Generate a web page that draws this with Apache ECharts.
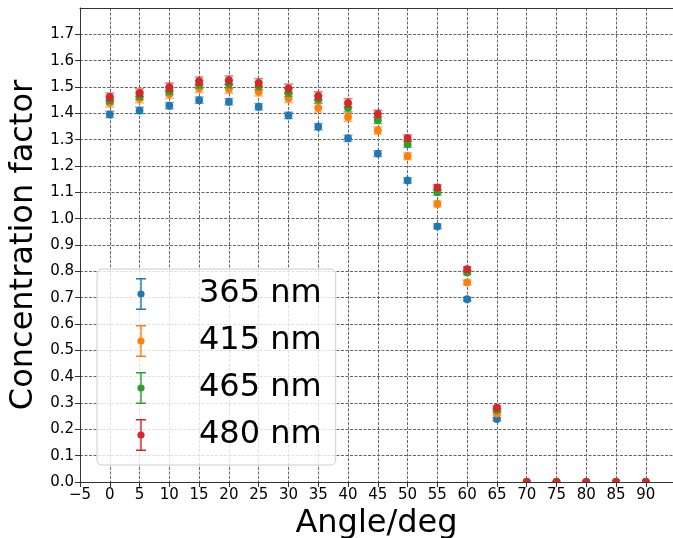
<!DOCTYPE html>
<html>
<head>
<meta charset="utf-8">
<script src="https://cdn.jsdelivr.net/npm/echarts@6/dist/echarts.min.js"></script>
<style>
html, body { margin: 0; padding: 0; background: #fff; }
#chart { width: 673px; height: 538px; }
</style>
</head>
<body>
<div id="chart"></div>
<script>
var angles = [0, 5, 10, 15, 20, 25, 30, 35, 40, 45, 50, 55, 60, 65, 70, 75, 80, 85, 90];

var names = ['365 nm', '415 nm', '465 nm', '480 nm'];
var colors = ['#1f77b4', '#ff7f0e', '#2ca02c', '#d62728'];

var cf365 = [1.396, 1.411, 1.429, 1.450, 1.444, 1.425, 1.392, 1.349, 1.305, 1.247, 1.145, 0.971, 0.694, 0.239, 0, 0, 0, 0, 0];
var cf415 = [1.440, 1.456, 1.473, 1.495, 1.492, 1.482, 1.457, 1.421, 1.386, 1.335, 1.237, 1.056, 0.758, 0.260, 0, 0, 0, 0, 0];
var cf465 = [1.450, 1.466, 1.485, 1.510, 1.511, 1.504, 1.478, 1.453, 1.421, 1.374, 1.283, 1.100, 0.796, 0.273, 0, 0, 0, 0, 0];
var cf480 = [1.462, 1.478, 1.499, 1.522, 1.526, 1.516, 1.495, 1.466, 1.440, 1.398, 1.306, 1.119, 0.808, 0.282, 0, 0, 0, 0, 0];

var err365 = [0.012, 0.012, 0.012, 0.012, 0.012, 0.012, 0.012, 0.012, 0.012, 0.011, 0.010, 0.009, 0.007, 0.006, 0, 0, 0, 0, 0];
var err415 = [0.016, 0.016, 0.016, 0.016, 0.016, 0.016, 0.016, 0.016, 0.016, 0.014, 0.013, 0.011, 0.009, 0.007, 0, 0, 0, 0, 0];
var err465 = [0.014, 0.014, 0.014, 0.014, 0.014, 0.014, 0.014, 0.014, 0.014, 0.013, 0.012, 0.010, 0.008, 0.007, 0, 0, 0, 0, 0];
var err480 = [0.015, 0.015, 0.016, 0.016, 0.016, 0.016, 0.016, 0.016, 0.016, 0.014, 0.012, 0.010, 0.009, 0.007, 0, 0, 0, 0, 0];

var values = [cf365, cf415, cf465, cf480];
var errors = [err365, err415, err465, err480];

var FONT = 'DejaVu Sans';
var barIcon = 'path://M0,0H10V1.5H0Z M4.3,0H5.7V32H4.3Z M0,30.5H10V32H0Z M8.6,16A3.6,3.6,0,1,1,1.4,16A3.6,3.6,0,1,1,8.6,16Z';

function renderErr(params, api) {
    var x = api.value(0), y = api.value(1), e = api.value(2);
    var p = api.coord([x, y]);
    var hi = api.coord([x, y + e]);
    var lo = api.coord([x, y - e]);
    var c = api.visual('color');
    var kids = [];
    if (e > 0) {
        kids.push({type: 'line', shape: {x1: p[0], y1: hi[1], x2: p[0], y2: lo[1]}, style: {stroke: c, lineWidth: 1.5, opacity: 0.6}});
        kids.push({type: 'line', shape: {x1: p[0] - 4.5, y1: hi[1], x2: p[0] + 4.5, y2: hi[1]}, style: {stroke: c, lineWidth: 1.5, opacity: 0.6}});
        kids.push({type: 'line', shape: {x1: p[0] - 4.5, y1: lo[1], x2: p[0] + 4.5, y2: lo[1]}, style: {stroke: c, lineWidth: 1.5, opacity: 0.6}});
    }
    kids.push({type: 'circle', shape: {cx: p[0], cy: p[1], r: 3.9}, style: {fill: c}});
    return {type: 'group', children: kids};
}

var series = [];
for (var i = 0; i < names.length; i++) {
    var d = [];
    for (var j = 0; j < angles.length; j++) {
        d.push([angles[j], values[i][j], errors[i][j]]);
    }
    series.push({
        name: names[i],
        type: 'custom',
        clip: true,
        itemStyle: {color: colors[i]},
        encode: {x: 0, y: 1},
        renderItem: renderErr,
        data: d
    });
}

var gridLineStyle = {color: '#666', type: [3, 1.5], width: 1};

// the plot runs off the right edge, so no right spine; top spine is a bare second x axis
var chart = echarts.init(document.getElementById('chart'));
chart.setOption({
    animation: false,
    color: colors,
    textStyle: {fontFamily: FONT},
    grid: {
        left: 80,
        right: -30,
        top: 8,
        bottom: 56,
        containLabel: false,
        outerBoundsMode: 'none'
    },
    legend: {
        orient: 'vertical',
        left: 97,
        top: 269,
        padding: [9, 14, 14, 39],
        itemGap: 15,
        itemWidth: 10,
        itemHeight: 32,
        backgroundColor: 'rgba(255,255,255,0.8)',
        borderColor: '#cccccc',
        borderWidth: 1,
        borderRadius: 5,
        selectedMode: false,
        textStyle: {fontFamily: FONT, fontSize: 32, color: '#000', lineHeight: 32, padding: [0, 0, 0, 48]},
        data: names.map(function (n) { return {name: n, icon: barIcon}; })
    },
    xAxis: [{
        type: 'value',
        min: -5,
        max: 99.6,
        interval: 5,
        name: 'Angle/deg',
        nameLocation: 'middle',
        nameGap: 24,
        nameTextStyle: {fontFamily: FONT, fontSize: 32, color: '#000', padding: [0, 30, 0, 0]},
        axisLine: {show: true, onZero: false, lineStyle: {color: '#333'}},
        axisTick: {show: true, length: 5, lineStyle: {color: '#333'}},
        axisLabel: {
            fontFamily: FONT, fontSize: 15, color: '#000', margin: 6, showMaxLabel: false,
            formatter: function (v) { return v > 92 ? '' : (v < 0 ? '\u2212' + (-v) : String(v)); }
        },
        splitLine: {show: true, lineStyle: gridLineStyle}
    }, {
        type: 'value',
        position: 'top',
        min: -5,
        max: 99.6,
        interval: 5,
        axisLine: {show: true, onZero: false, lineStyle: {color: '#333'}},
        axisTick: {show: false},
        axisLabel: {show: false},
        splitLine: {show: false}
    }],
    yAxis: {
        type: 'value',
        min: 0,
        max: 1.8,
        interval: 0.1,
        name: 'Concentration factor',
        nameLocation: 'middle',
        nameGap: 38,
        nameTextStyle: {fontFamily: FONT, fontSize: 32, color: '#000'},
        axisLine: {show: true, onZero: false, lineStyle: {color: '#333'}},
        axisTick: {show: true, length: 5, lineStyle: {color: '#333'}},
        axisLabel: {
            fontFamily: FONT, fontSize: 15, color: '#000', margin: 6, showMaxLabel: false,
            formatter: function (v) { return v.toFixed(1); }
        },
        splitLine: {show: true, lineStyle: gridLineStyle}
    },
    series: series
});

window.addEventListener('resize', function () {
    chart.resize();
});
</script>
</body>
</html>
